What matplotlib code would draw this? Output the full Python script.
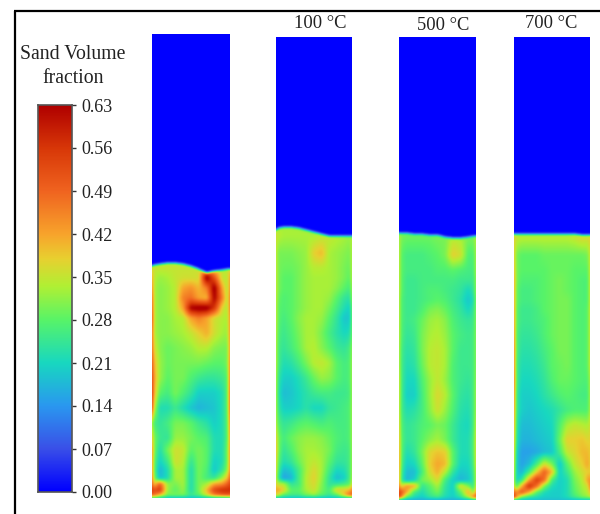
import numpy as np
import matplotlib
matplotlib.use("Agg")
import matplotlib.pyplot as plt
from matplotlib.colors import LinearSegmentedColormap

plt.rcParams['font.family'] = ['Liberation Serif', 'DejaVu Serif']

W, H = 600, 514
tick_values = [0.00, 0.07, 0.14, 0.21, 0.28, 0.35, 0.42, 0.49, 0.56, 0.63]
stop_values = [0.00, 0.07, 0.14, 0.21, 0.28, 0.335, 0.38, 0.42, 0.49, 0.56, 0.63]
stop_colors = ['#0000ff', '#3a50e8', '#2a98f0', '#18d8c0', '#58f468',
               '#b0f034', '#e8d030', '#f8a42c', '#f06420', '#d83808', '#b00000']
titles = ['', '100 °C', '500 °C', '700 °C']
bar_title = 'Sand Volume\nfraction'

# width fraction of each column, height above the floor (px) of each row
col_frac = [0, .03, .1, .2, .3, .4, .5, .6, .7, .8, .9, .97, 1]
row_h = [280, 262, 245, 230, 220, 210, 200, 190, 180, 165, 150, 135, 120,
         105, 90, 75, 60, 48, 36, 28, 20, 14, 8, 3, 0]

# sand volume fraction in hundredths, top row first
sand_ambient = [
    [33,33,33,33,33,33,33,33,33,33,33,33,33],
    [33,33,33,33,33,33,33,33,33,33,33,33,33],
    [36,35,35,35,35,35,35,36,37,36,35,35,36],
    [37,35,35,35,35,35,35,36,46,38,35,35,38],
    [42,34,32,33,35,36,36,36,66,52,35,34,44],
    [46,33,31,32,34,42,44,40,46,66,42,33,46],
    [50,33,31,32,34,46,48,42,40,64,46,33,48],
    [52,33,31,32,34,42,64,66,66,56,37,33,48],
    [54,33,31,31,33,34,42,46,42,36,34,33,46],
    [50,33,31,31,32,33,35,38,41,36,33,32,46],
    [50,36,31,29,30,31,32,34,34,31,30,30,46],
    [52,40,32,29,30,30,30,30,29,28,28,30,48],
    [54,42,32,28,30,30,27,25,24,24,25,28,50],
    [56,40,28,26,30,27,24,20,20,20,22,28,52],
    [54,34,22,22,25,22,19,17,18,19,22,28,52],
    [34,26,24,26,30,30,28,25,23,20,22,28,48],
    [40,30,25,24,32,32,30,28,27,22,22,28,46],
    [46,30,22,30,36,35,28,30,28,22,22,30,46],
    [46,28,20,25,36,34,24,30,28,20,22,30,46],
    [46,28,17,22,33,33,22,30,27,19,24,32,46],
    [48,30,18,22,33,33,22,30,26,24,32,40,50],
    [50,38,50,32,30,33,22,30,33,42,44,50,54],
    [56,52,56,32,28,32,22,30,40,54,58,58,58],
    [50,48,40,30,30,30,25,28,36,46,50,52,50],
    [22,22,20,18,18,18,18,18,18,18,18,18,22],
]
sand_100 = [
    [33,33,33,33,33,33,33,33,33,33,33,33,33],
    [36,34,33,33,33,33,33,34,35,34,33,32,34],
    [36,30,30,30,31,32,38,40,33,32,31,30,34],
    [36,30,29,29,30,32,34,34,33,32,30,29,34],
    [36,30,28,28,30,32,33,33,33,32,30,28,34],
    [36,30,28,28,30,32,33,33,33,31,28,26,33],
    [36,29,27,28,30,32,33,33,32,28,24,23,32],
    [36,28,27,28,30,32,33,33,30,26,22,20,30],
    [36,28,26,28,31,33,33,32,28,24,19,19,30],
    [36,27,25,27,30,33,33,30,26,23,21,22,30],
    [36,26,24,26,29,33,34,31,28,25,24,26,32],
    [36,26,22,23,26,30,34,35,33,28,26,27,33],
    [36,24,20,20,22,25,29,32,31,28,26,27,33],
    [36,23,18,19,21,23,25,26,26,25,25,26,33],
    [36,24,20,20,21,23,21,21,24,25,26,27,33],
    [36,27,24,25,27,28,27,26,27,26,26,27,33],
    [40,30,26,29,31,32,32,31,29,27,26,27,33],
    [42,30,24,27,31,33,33,32,30,26,25,26,33],
    [40,28,22,24,29,33,35,33,28,24,24,26,33],
    [40,26,18,20,26,33,37,33,26,21,22,26,33],
    [38,24,15,17,26,34,38,32,24,18,20,26,34],
    [38,34,34,24,26,34,37,31,24,24,26,28,36],
    [42,42,38,28,28,33,36,30,26,38,38,40,46],
    [38,36,28,26,26,30,32,28,25,28,40,50,50],
    [18,18,18,18,18,18,18,18,18,18,18,18,18],
]
sand_500 = [
    [30,30,30,30,30,30,30,30,30,30,30,30,30],
    [34,30,29,29,29,29,30,30,34,33,30,30,34],
    [36,28,26,26,26,27,28,30,38,36,27,27,34],
    [36,28,26,26,26,26,27,27,28,27,26,26,34],
    [36,28,25,25,26,26,26,26,26,25,25,25,33],
    [36,28,25,25,26,27,27,26,25,24,21,24,33],
    [36,27,25,25,26,27,28,27,25,23,19,22,32],
    [36,27,25,25,27,30,31,29,26,24,21,24,32],
    [36,27,25,26,29,32,33,31,27,25,24,25,32],
    [36,27,24,25,30,33,34,32,28,26,25,26,32],
    [36,26,23,24,30,34,35,33,28,25,25,26,32],
    [36,26,22,23,29,34,35,33,27,25,25,26,32],
    [38,26,21,21,27,32,35,32,27,25,24,26,33],
    [38,26,20,20,26,32,37,34,28,24,23,26,34],
    [38,26,22,23,26,31,36,32,27,23,22,26,34],
    [40,27,24,25,27,28,30,29,25,22,21,26,36],
    [42,28,24,25,28,31,33,30,25,22,22,27,38],
    [44,28,22,24,30,37,39,38,28,22,22,27,38],
    [46,27,20,21,28,38,42,40,28,21,21,26,38],
    [44,26,18,18,26,36,41,34,24,19,20,25,36],
    [44,25,17,20,30,32,37,26,20,17,19,24,36],
    [46,36,44,42,24,28,33,24,20,38,30,24,38],
    [54,52,42,26,22,26,30,23,20,28,42,30,44],
    [56,46,28,22,20,24,26,22,20,24,34,48,52],
    [16,16,16,16,16,16,16,16,16,16,16,16,16],
]
sand_700 = [
    [30,30,30,30,30,30,30,30,30,30,30,30,30],
    [38,35,34,34,34,34,34,34,34,35,37,36,38],
    [40,30,28,28,28,29,29,29,29,29,29,30,36],
    [42,30,28,28,28,28,29,29,29,28,28,28,36],
    [44,30,27,27,27,28,29,30,29,28,27,27,36],
    [44,29,26,26,27,28,29,30,29,28,27,27,36],
    [44,29,26,26,27,28,29,30,30,28,27,27,36],
    [46,28,25,25,26,28,29,30,30,28,27,28,36],
    [46,28,25,25,26,27,29,30,30,28,27,28,36],
    [48,27,24,24,25,27,29,30,30,28,27,28,36],
    [50,27,23,23,24,26,28,30,30,28,27,28,36],
    [50,26,22,22,23,25,28,29,30,28,27,28,36],
    [52,26,21,21,22,24,27,29,29,28,27,27,34],
    [50,25,20,20,21,23,25,27,28,27,26,26,34],
    [48,25,20,19,20,21,22,24,26,27,27,27,34],
    [46,24,18,18,19,20,21,27,33,35,34,33,36],
    [44,23,17,17,18,19,20,29,38,38,39,37,38],
    [42,21,15,15,16,18,19,26,35,37,40,40,38],
    [40,20,15,18,26,36,30,19,28,35,38,42,38],
    [38,20,17,26,38,50,40,20,25,32,36,38,38],
    [36,20,24,42,56,48,26,20,22,30,34,42,44],
    [38,26,40,58,48,30,22,20,22,29,33,36,46],
    [50,44,52,42,28,22,20,20,22,28,32,34,40],
    [58,46,30,24,22,20,20,20,22,26,30,32,34],
    [18,18,18,18,18,18,18,18,18,18,18,18,18],
]
# height of the free surface (px above the floor) at each column
surface_ambient = [232,233,234,235,235,234,232,229,225,227,228,229,229]
surface_100 = [268,270,271,271,270,268,266,264,262,262,262,262,262]
surface_500 = [267,267,267,266,266,265,265,263,262,262,263,264,264]
surface_700 = [266,266,266,266,266,266,266,266,266,266,265,265,265]

fields = [sand_ambient, sand_100, sand_500, sand_700]
surfaces = [surface_ambient, surface_100, surface_500, surface_700]
# panel boxes in pixels: left, right, top, bottom
boxes = [(152, 229, 34, 498), (276, 352, 37, 498), (399, 475, 37, 500), (514, 590, 37, 500)]
title_pos = [None, (320, 23), (443, 25), (551, 23)]

cmap = LinearSegmentedColormap.from_list(
    'sand', [(v / 0.63, c) for v, c in zip(stop_values, stop_colors)], N=512)

fig = plt.figure(figsize=(W / 100, H / 100), dpi=100)
bg = fig.add_axes([0, 0, 1, 1])
bg.set_xlim(0, W); bg.set_ylim(H, 0); bg.axis('off')
bg.plot([14.5, 14.5], [514, 11], color='k', lw=1.6, solid_capstyle='butt')
bg.plot([14, 600], [11, 11], color='k', lw=1.6, solid_capstyle='butt')


def blur(a, s):
    k = np.exp(-0.5 * (np.arange(-10, 11) / s) ** 2); k /= k.sum()
    p = np.pad(a, ((10, 10), (10, 10)), mode='edge')
    p = np.apply_along_axis(lambda r: np.convolve(r, k, mode='same'), 0, p)
    p = np.apply_along_axis(lambda r: np.convolve(r, k, mode='same'), 1, p)
    return p[10:-10, 10:-10]


for field, surf, box, tp, tt in zip(fields, surfaces, boxes, title_pos, titles):
    l, r, t, b = box
    ax = fig.add_axes([l / W, 1 - b / H, (r - l) / W, (b - t) / H])
    hh = b - t
    xs = (np.arange(2 * (r - l)) + .5) / (2 * (r - l))
    ys = hh - (np.arange(2 * hh) + .5) / 2
    g = np.array(field, float) / 100
    rh = np.array(row_h, float)
    a = np.array([np.interp(xs, col_frac, row) for row in g])
    b2 = np.array([np.interp(ys, rh[::-1], a[::-1, i]) for i in range(a.shape[1])]).T
    s = np.interp(xs, col_frac, surf)
    b2[ys[:, None] > s[None, :]] = 0
    b2 = blur(b2, 2.6)
    ax.imshow(b2, cmap=cmap, vmin=0, vmax=0.63, extent=[0, 1, 0, hh],
              aspect='auto', interpolation='bilinear')
    ax.axis('off')
    if tt:
        bg.text(tp[0], tp[1], tt, ha='center', va='center', fontsize=13.3, color='#222222')

# colour bar
cax = fig.add_axes([38 / W, 1 - 492 / H, 34 / W, 387 / H])
grad = np.linspace(0.63, 0, 400)[:, None]
cax.imshow(grad, cmap=cmap, vmin=0, vmax=0.63, extent=[0, 1, 0, 0.63], aspect='auto')
cax.set_xticks([])
cax.yaxis.tick_right()
cax.set_yticks(tick_values)
cax.set_yticklabels([f'{v:.2f}' for v in tick_values], fontsize=13, color='#222222')
cax.tick_params(axis='y', length=3, width=1, pad=4, color='#333333')
for sp in cax.spines.values():
    sp.set_color('#555555'); sp.set_linewidth(1.2)
bg.text(73, 66.5, bar_title, ha='center', va='center', fontsize=14.2,
        color='#222222', linespacing=1.3)
fig.savefig('out.png', dpi=100)
